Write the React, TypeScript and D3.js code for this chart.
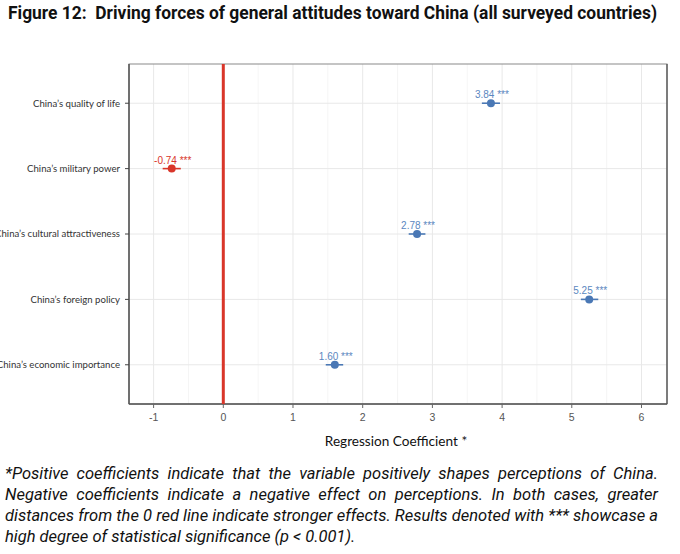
import React, { useEffect, useRef } from "react";
import * as d3 from "d3";

const categories = [
  "China’s quality of life",
  "China’s military power",
  "China’s cultural attractiveness",
  "China’s foreign policy",
  "China’s economic importance",
];
const estimates = [3.84, -0.74, 2.78, 5.25, 1.6];
const lowerCI = [3.71, -0.87, 2.66, 5.13, 1.47];
const upperCI = [3.97, -0.61, 2.9, 5.38, 1.72];
const significance = ["***", "***", "***", "***", "***"];
const xTicks = [-1, 0, 1, 2, 3, 4, 5, 6];
const xMinorTicks = [-0.5, 0.5, 1.5, 2.5, 3.5, 4.5, 5.5];
const titleText =
  "Figure 12:  Driving forces of general attitudes toward China (all surveyed countries)";
const xAxisTitle = "Regression Coefficient *";
const footnoteLines = [
  "*Positive coefficients indicate that the variable positively shapes perceptions of China.",
  "Negative coefficients indicate a negative effect on perceptions. In both cases, greater",
  "distances from the 0 red line indicate stronger effects. Results denoted with *** showcase a",
  "high degree of statistical significance (p < 0.001).",
];

const W = 680;
const H = 554;

export default function App() {
  const ref = useRef<SVGSVGElement | null>(null);

  useEffect(() => {
    document.body.style.margin = "0";
    const svg = d3.select(ref.current);
    svg.selectAll("*").remove();

    const left = 129,
      right = 667,
      top = 64,
      bottom = 404;

    const x = d3.scaleLinear().domain([-1.353, 6.366]).range([left, right]);
    const y = d3.scalePoint<string>().domain(categories).range([top, bottom]).padding(0.6);

    svg.append("rect").attr("width", W).attr("height", H).attr("fill", "#ffffff");

    // title
    svg
      .append("text")
      .attr("x", 8)
      .attr("y", 19)
      .attr("font-family", "Roboto")
      .attr("font-weight", 700)
      .attr("font-size", 17.5)
      .attr("fill", "#111")
      .attr("textLength", 649)
      .attr("lengthAdjust", "spacingAndGlyphs")
      .style("white-space", "pre")
      .text(titleText);

    const g = svg.append("g");

    g.append("rect")
      .attr("x", left)
      .attr("y", top)
      .attr("width", right - left)
      .attr("height", bottom - top)
      .attr("fill", "#fff");

    g.selectAll(".minor")
      .data(xMinorTicks)
      .join("line")
      .attr("x1", (d) => x(d))
      .attr("x2", (d) => x(d))
      .attr("y1", top)
      .attr("y2", bottom)
      .attr("stroke", "#f2f2f2")
      .attr("stroke-width", 0.8);

    g.selectAll(".major")
      .data(xTicks)
      .join("line")
      .attr("x1", (d) => x(d))
      .attr("x2", (d) => x(d))
      .attr("y1", top)
      .attr("y2", bottom)
      .attr("stroke", "#e8e8e8")
      .attr("stroke-width", 1);

    g.selectAll(".hgrid")
      .data(categories)
      .join("line")
      .attr("x1", left)
      .attr("x2", right)
      .attr("y1", (d) => y(d)!)
      .attr("y2", (d) => y(d)!)
      .attr("stroke", "#e8e8e8")
      .attr("stroke-width", 1);

    g.append("rect")
      .attr("x", left)
      .attr("y", top)
      .attr("width", right - left)
      .attr("height", bottom - top)
      .attr("fill", "none")
      .attr("stroke", "#8a8a8a")
      .attr("stroke-width", 1);
    g.append("line")
      .attr("x1", right)
      .attr("x2", right)
      .attr("y1", top)
      .attr("y2", bottom)
      .attr("stroke", "#555")
      .attr("stroke-width", 1.3);
    g.append("line")
      .attr("x1", left)
      .attr("x2", left)
      .attr("y1", top)
      .attr("y2", bottom)
      .attr("stroke", "#555")
      .attr("stroke-width", 1.5);
    g.append("line")
      .attr("x1", left)
      .attr("x2", right)
      .attr("y1", bottom)
      .attr("y2", bottom)
      .attr("stroke", "#555")
      .attr("stroke-width", 1.5);

    // zero line
    g.append("line")
      .attr("x1", x(0))
      .attr("x2", x(0))
      .attr("y1", top)
      .attr("y2", bottom)
      .attr("stroke", "#d9362a")
      .attr("stroke-width", 3);

    categories.forEach((c) => {
      const yy = y(c)!;
      g.append("line")
        .attr("x1", left - 4)
        .attr("x2", left)
        .attr("y1", yy)
        .attr("y2", yy)
        .attr("stroke", "#444")
        .attr("stroke-width", 1);
      g.append("text")
        .attr("x", left - 9)
        .attr("y", yy)
        .attr("dy", "0.35em")
        .attr("text-anchor", "end")
        .attr("font-family", "Lato")
        .attr("font-size", 9.6)
        .attr("fill", "#333")
        .text(c);
    });

    xTicks.forEach((t) => {
      g.append("line")
        .attr("x1", x(t))
        .attr("x2", x(t))
        .attr("y1", bottom)
        .attr("y2", bottom + 4)
        .attr("stroke", "#666")
        .attr("stroke-width", 1);
      g.append("text")
        .attr("x", x(t))
        .attr("y", bottom + 16.5)
        .attr("text-anchor", "middle")
        .attr("font-family", "'Liberation Sans', Arial, sans-serif")
        .attr("font-size", 10.5)
        .attr("fill", "#555")
        .text(String(t));
    });

    svg
      .append("text")
      .attr("x", (left + right) / 2 - 2)
      .attr("y", 446)
      .attr("text-anchor", "middle")
      .attr("font-family", "Lato")
      .attr("font-size", 13.6)
      .attr("fill", "#111")
      .text(xAxisTitle);

    categories.forEach((c, i) => {
      const yy = y(c)!;
      const col = estimates[i] < 0 ? "#d9362a" : "#4a78b5";
      g.append("line")
        .attr("x1", x(lowerCI[i]))
        .attr("x2", x(upperCI[i]))
        .attr("y1", yy)
        .attr("y2", yy)
        .attr("stroke", col)
        .attr("stroke-width", 1.6);
      g.append("circle")
        .attr("cx", x(estimates[i]))
        .attr("cy", yy)
        .attr("r", 4)
        .attr("fill", col);
      g.append("text")
        .attr("x", x(estimates[i]) + 1)
        .attr("y", yy - 5)
        .attr("text-anchor", "middle")
        .attr("font-family", "'Liberation Sans', Arial, sans-serif")
        .attr("font-size", 10)
        .attr("fill", estimates[i] < 0 ? "#d9362a" : "#5b87c0")
        .text(`${estimates[i].toFixed(2)} ${significance[i]}`);
    });

    // footnote, justified
    const fx0 = 5,
      fx1 = 658;
    const baseY = [479, 500, 521, 542];
    const fs = 16.5;
    const measure = svg
      .append("text")
      .attr("font-family", "Roboto")
      .attr("font-style", "italic")
      .attr("font-size", fs)
      .attr("x", -1000)
      .attr("y", -1000);
    footnoteLines.forEach((line, li) => {
      const words = line.split(" ");
      const widths = words.map((w) => {
        measure.text(w);
        return (measure.node() as SVGTextElement).getComputedTextLength();
      });
      measure.text("a b");
      const abW = (measure.node() as SVGTextElement).getComputedTextLength();
      measure.text("ab");
      const spaceW = abW - (measure.node() as SVGTextElement).getComputedTextLength();
      const total = d3.sum(widths);
      const isLast = li === footnoteLines.length - 1;
      const gap = isLast ? spaceW : (fx1 - fx0 - total) / (words.length - 1);
      let cx = fx0;
      words.forEach((w, wi) => {
        svg
          .append("text")
          .attr("x", cx)
          .attr("y", baseY[li])
          .attr("font-family", "Roboto")
          .attr("font-style", "italic")
          .attr("font-size", fs)
          .attr("fill", "#111")
          .text(w);
        cx += widths[wi] + gap;
      });
    });
    measure.remove();
  }, []);

  return <svg ref={ref} width={W} height={H} style={{ display: "block" }} />;
}
